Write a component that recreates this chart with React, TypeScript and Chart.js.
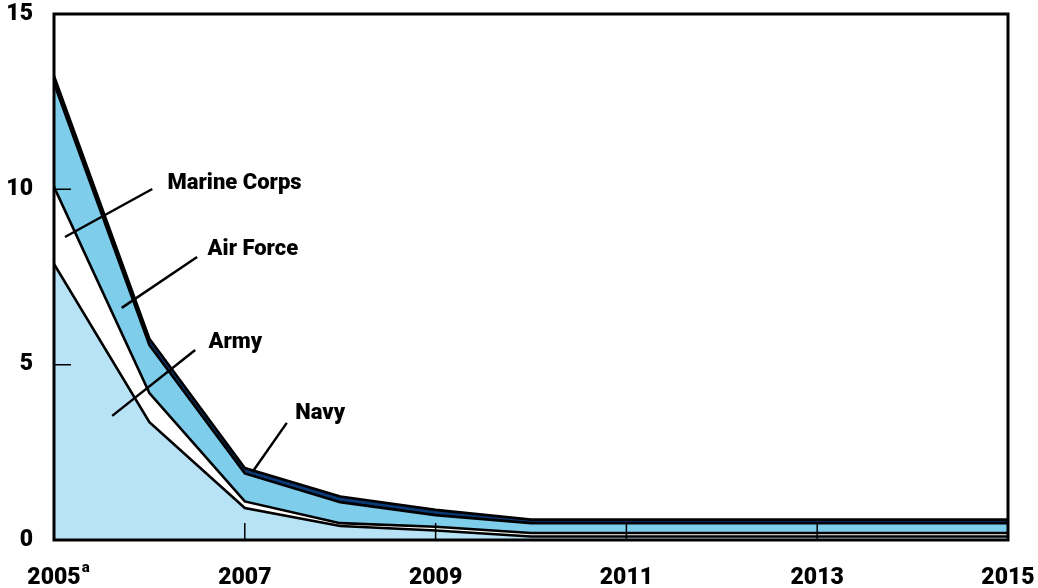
import { useEffect, useRef } from "react";
import { Chart, registerables } from "chart.js";
Chart.register(...registerables);

const YEARS = [2005, 2006, 2007, 2008, 2009, 2010, 2011, 2012, 2013, 2014, 2015];
const ARMY = [7.87, 3.36, 0.91, 0.4, 0.27, 0.1, 0.1, 0.1, 0.1, 0.1, 0.1];
const MARINE_CORPS = [2.2, 0.83, 0.19, 0.08, 0.11, 0.1, 0.1, 0.1, 0.1, 0.1, 0.1];
const AIR_FORCE = [2.96, 1.37, 0.8, 0.6, 0.33, 0.28, 0.28, 0.28, 0.28, 0.28, 0.28];
const NAVY = [0.2, 0.18, 0.15, 0.16, 0.15, 0.1, 0.1, 0.1, 0.1, 0.1, 0.1];
const Y_TICKS = [0, 5, 10, 15];
const X_TICKS = [2005, 2007, 2009, 2011, 2013, 2015];
const X_TICK_LABELS = ["2005", "2007", "2009", "2011", "2013", "2015"];
const FOOTNOTE = "a";

const ANNOTATIONS = [
  { text: "Marine Corps", at: [2006.19, 10.17], from: [2005.115, 8.64], to: [2006.03, 10.01] },
  { text: "Air Force", at: [2006.61, 8.27], from: [2005.71, 6.62], to: [2006.5, 8.07] },
  { text: "Army", at: [2006.62, 5.62], from: [2005.61, 3.54], to: [2006.48, 5.42] },
  { text: "Navy", at: [2007.53, 3.6], from: [2007.08, 1.94], to: [2007.44, 3.34] },
];

const FONT = 'Roboto, "DejaVu Sans Condensed", sans-serif';
const WEIGHT = "900";

const toPoints = (vals: number[]) => vals.map((v, i) => ({ x: YEARS[i], y: v }));

const decorPlugin = {
  id: "decor",
  afterDatasetsDraw(chart: any) {
    const { ctx, chartArea: a, scales } = chart;
    const xs = scales.x;
    const ys = scales.y;
    ctx.save();
    ctx.strokeStyle = "#000";
    ctx.lineWidth = 1.5;
    ctx.beginPath();
    Y_TICKS.slice(1, -1).forEach((t) => {
      const y = ys.getPixelForValue(t);
      ctx.moveTo(a.left, y);
      ctx.lineTo(a.left + 17, y);
    });
    X_TICKS.slice(1, -1).forEach((t) => {
      const x = xs.getPixelForValue(t);
      ctx.moveTo(x, a.bottom);
      ctx.lineTo(x, a.bottom - 17);
    });
    ctx.stroke();
    ctx.lineWidth = 3;
    ctx.strokeRect(a.left, a.top, a.right - a.left, a.bottom - a.top);
    ctx.lineWidth = 2.5;
    ctx.fillStyle = "#000";
    ctx.font = `${WEIGHT} 22px ${FONT}`;
    ctx.textAlign = "left";
    ctx.textBaseline = "middle";
    ANNOTATIONS.forEach((an) => {
      ctx.beginPath();
      ctx.moveTo(xs.getPixelForValue(an.from[0]), ys.getPixelForValue(an.from[1]));
      ctx.lineTo(xs.getPixelForValue(an.to[0]), ys.getPixelForValue(an.to[1]));
      ctx.stroke();
      ctx.fillText(an.text, xs.getPixelForValue(an.at[0]), ys.getPixelForValue(an.at[1]));
    });
    ctx.restore();
  },
  afterDraw(chart: any) {
    const { ctx, scales } = chart;
    const xs = scales.x;
    ctx.save();
    ctx.font = `${WEIGHT} 23px ${FONT}`;
    const w = ctx.measureText(X_TICK_LABELS[0]).width;
    const x = xs.getPixelForValue(X_TICKS[0]) + w / 2 + 1;
    ctx.font = `${WEIGHT} 15px ${FONT}`;
    ctx.fillStyle = "#000";
    ctx.textAlign = "left";
    ctx.textBaseline = "alphabetic";
    ctx.fillText(FOOTNOTE, x, 572);
    ctx.restore();
  },
};

export default function App() {
  const ref = useRef<HTMLCanvasElement | null>(null);
  useEffect(() => {
    document.body.style.margin = "0";
    const ds = (label: string, data: number[], bg: string, fill: any) => ({
      label,
      data: toPoints(data),
      backgroundColor: bg,
      borderColor: "#000",
      borderWidth: 2.6,
      pointRadius: 0,
      tension: 0,
      fill,
    });
    const chart = new Chart(ref.current as HTMLCanvasElement, {
      type: "line",
      data: {
        datasets: [
          ds("Army", ARMY, "#b8e2f6", "origin"),
          ds("Marine Corps", MARINE_CORPS, "#ffffff", "-1"),
          ds("Air Force", AIR_FORCE, "#7ecdeb", "-1"),
          ds("Navy", NAVY, "#0b3a78", "-1"),
        ],
      },
      options: {
        animation: false,
        responsive: false,
        maintainAspectRatio: false,
        layout: { padding: { top: 14, right: 30, left: 0, bottom: 0 } },
        plugins: { legend: { display: false }, tooltip: { enabled: false } },
        scales: {
          x: {
            type: "linear",
            min: 2005,
            max: 2015,
            afterBuildTicks: (s: any) => {
              s.ticks = X_TICKS.map((v) => ({ value: v }));
            },
            afterFit: (s: any) => {
              s.height = 48;
              s.paddingLeft = 0;
              s.paddingRight = 0;
            },
            grid: { display: false, drawTicks: false },
            border: { display: false },
            ticks: {
              padding: 24,
              color: "#000",
              maxRotation: 0,
              autoSkip: false,
              font: { family: FONT, size: 23, weight: WEIGHT },
              callback: (v: any) => {
                const i = X_TICKS.indexOf(Number(v));
                return i >= 0 ? X_TICK_LABELS[i] : "";
              },
            },
          },
          y: {
            stacked: true,
            min: 0,
            max: 15,
            afterBuildTicks: (s: any) => {
              s.ticks = Y_TICKS.map((v) => ({ value: v }));
            },
            afterFit: (s: any) => {
              s.width = 54;
              s.paddingTop = 0;
              s.paddingBottom = 0;
            },
            grid: { display: false, drawTicks: false },
            border: { display: false },
            ticks: {
              padding: 21,
              color: "#000",
              font: { family: FONT, size: 23, weight: WEIGHT },
            },
          },
        },
      },
      plugins: [decorPlugin],
    } as any);
    return () => chart.destroy();
  }, []);
  return (
    <div style={{ width: 1038, height: 588 }}>
      <canvas ref={ref} width={1038} height={588} style={{ display: "block" }} />
    </div>
  );
}
